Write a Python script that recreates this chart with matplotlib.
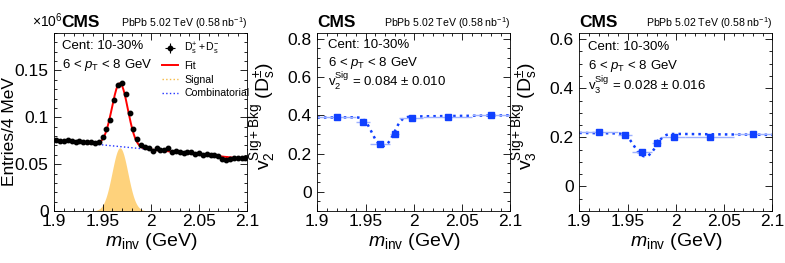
import numpy as np
import matplotlib
matplotlib.use('Agg')
import matplotlib.pyplot as plt
from matplotlib.ticker import MultipleLocator, FormatStrFormatter

plt.rcParams['font.family'] = ['Liberation Sans', 'DejaVu Sans']
plt.rcParams['mathtext.fontset'] = 'custom'
plt.rcParams['mathtext.rm'] = 'Liberation Sans'
plt.rcParams['mathtext.it'] = 'Liberation Sans:italic'
plt.rcParams['mathtext.bf'] = 'Liberation Sans:bold'

# invariant mass spectrum (x10^6 entries per 4 MeV)
mass = np.arange(50) * 0.004 + 1.902
entries = [0.0760, 0.0752, 0.0748, 0.0757, 0.0744, 0.0738, 0.0742, 0.0735, 0.0740, 0.0733,
           0.0730, 0.0732, 0.0790, 0.0876, 0.0975, 0.1190, 0.1350, 0.1365, 0.1250, 0.1050,
           0.0880, 0.0765, 0.0700, 0.0685, 0.0672, 0.0642, 0.0668, 0.0650, 0.0655, 0.0668,
           0.0628, 0.0640, 0.0632, 0.0618, 0.0630, 0.0627, 0.0608, 0.0615, 0.0603, 0.0605,
           0.0596, 0.0600, 0.0585, 0.0560, 0.0545, 0.0560, 0.0566, 0.0570, 0.0562, 0.0566]
entries_err = 0.0012

# fit parameters
bkg_at_19 = 0.0756
bkg_slope = -0.1005
sig_amp = 0.0675
sig_mean = 1.968
sig_width = 0.0082

# v_n bins
bin_lo = [1.900, 1.940, 1.955, 1.975, 1.985, 2.010, 2.060]
bin_hi = [1.940, 1.955, 1.975, 1.985, 2.010, 2.060, 2.100]
bin_x = [1.920, 1.9475, 1.965, 1.980, 1.998, 2.035, 2.080]
v2_vals = [0.393, 0.365, 0.250, 0.300, 0.387, 0.390, 0.400]
v2_errs = [0.008, 0.012, 0.012, 0.015, 0.008, 0.006, 0.006]
v3_vals = [0.223, 0.209, 0.139, 0.178, 0.201, 0.203, 0.212]
v3_errs = [0.008, 0.012, 0.012, 0.015, 0.010, 0.007, 0.007]
v2_sig = 0.084
v3_sig = 0.028
v2_bkg = (0.388, 0.400)   # background v2 at 1.9 and 2.1 GeV
v3_bkg = (0.218, 0.210)

xm = np.linspace(1.9, 2.1, 400)
bkg = bkg_at_19 + bkg_slope * (xm - 1.9)
sig = sig_amp * np.exp(-0.5 * ((xm - sig_mean) / sig_width) ** 2)
alpha = sig / (sig + bkg)

blue = '#1040ff'
fig = plt.figure(figsize=(7.85, 2.63), dpi=100)
W, H = 785.0, 263.0
lefts = [54.3, 317.3, 579.3]
axes = [fig.add_axes([l / W, 52 / H, 193 / W, 178 / H]) for l in lefts]


def style(ax, ymaj, ymin):
    ax.set_xlim(1.9, 2.1)
    ax.xaxis.set_major_locator(MultipleLocator(0.05))
    ax.xaxis.set_minor_locator(MultipleLocator(0.01))
    ax.yaxis.set_major_locator(MultipleLocator(ymaj))
    ax.yaxis.set_minor_locator(MultipleLocator(ymin))
    ax.xaxis.set_major_formatter(FormatStrFormatter('%g'))
    ax.yaxis.set_major_formatter(FormatStrFormatter('%g'))
    ax.tick_params(which='both', direction='in', top=True, right=True, labelsize=12.5)
    ax.tick_params(which='major', length=5, width=0.6)
    ax.tick_params(which='minor', length=2.5, width=0.6)
    ax.tick_params(axis='x', pad=2.5)
    ax.tick_params(axis='y', pad=4)
    for s in ax.spines.values():
        s.set_linewidth(0.6)
    ax.set_xlabel(r'$m_{\mathrm{inv}}$ (GeV)', fontsize=14)
    ax.xaxis.set_label_coords(0.5, -0.115)
    ax.text(0.0, 1.034, 'CMS', transform=ax.transAxes, fontsize=12.5, fontweight='bold',
            va='baseline', ha='left')
    ax.text(1.0, 1.034, r'PbPb 5.02 TeV (0.58 nb$^{-1}$)', transform=ax.transAxes,
            fontsize=7.6, va='baseline', ha='right')


# panel 1: mass spectrum
ax = axes[0]
style(ax, 0.05, 0.01)
ax.set_ylim(0, 0.19)
ax.fill_between(xm, 0, sig, color='#fed27c', lw=0)
ax.plot(xm, bkg, ':', color='#2030ff', lw=1.0)
ax.plot(xm, bkg + sig, '-', color='red', lw=1.4)
ax.errorbar(mass, entries, yerr=entries_err, xerr=0.002, fmt='o', color='black',
            ms=3.2, elinewidth=0.8, capsize=0)
ax.texts[0].set_x(0.035)
ax.text(-0.118, 1.034, r'$\times10^{6}$', transform=ax.transAxes, fontsize=10, va='baseline')
ax.set_ylabel('Entries/4 MeV', fontsize=12.5)
ax.yaxis.set_label_coords(-0.195, 0.445)
ax.text(0.04, 0.91, 'Cent: 10-30%', transform=ax.transAxes, fontsize=9.5, va='baseline')
ax.text(0.04, 0.805, r'6 < $p_{\mathrm{T}}$ < 8 GeV', transform=ax.transAxes, fontsize=9.5,
        va='baseline')
h_data = ax.errorbar([], [], yerr=[], xerr=[], fmt='o', color='black', ms=3.2,
                     elinewidth=0.8, capsize=0)
h_fit, = ax.plot([], [], '-', color='red', lw=1.4)
h_sig, = ax.plot([], [], ':', color='#f5b942', lw=1.0)
h_bkg, = ax.plot([], [], ':', color='#2030ff', lw=1.0)
ax.legend([h_data, h_fit, h_sig, h_bkg],
          [r'$\mathrm{D_s^{+} + D_s^{-}}$', 'Fit', 'Signal', 'Combinatorial'],
          loc='upper left', bbox_to_anchor=(0.53, 0.985), frameon=False, fontsize=7.6,
          handlelength=1.5, handletextpad=0.6, labelspacing=0.35, borderpad=0)

# panels 2 and 3: v2, v3
panels = [
    (axes[1], v2_vals, v2_errs, v2_sig, v2_bkg, 2, (-0.1, 0.83), '0.084', '0.010',
     (0.056, 0.916, 0.812, 0.705)),
    (axes[2], v3_vals, v3_errs, v3_sig, v3_bkg, 3, (-0.1, 0.625), '0.028', '0.016',
     (0.045, 0.905, 0.795, 0.68)),
]
for ax, vals, errs, vsig, vbkg, n, ylim, cen, unc, pos in panels:
    style(ax, 0.2, 0.05)
    ax.set_ylim(*ylim)
    vb = vbkg[0] + (vbkg[1] - vbkg[0]) * (xm - 1.9) / 0.2
    ax.plot(xm, alpha * vsig + (1 - alpha) * vb, ':', color=blue, lw=1.8)
    xl = [c - lo for c, lo in zip(bin_x, bin_lo)]
    xh = [hi - c for c, hi in zip(bin_x, bin_hi)]
    ax.errorbar(bin_x, vals, xerr=[xl, xh], fmt='none', ecolor='#9db0ff', elinewidth=1.0,
                capsize=0)
    ax.errorbar(bin_x, vals, yerr=errs, fmt='s', color=blue, ms=4.2, elinewidth=1.0,
                capsize=0)
    ax.set_ylabel(r'$\mathrm{v}_{%d}^{\mathrm{Sig+Bkg}}$ $(\mathrm{D_s^{\pm}})$' % n,
                  fontsize=14)
    ax.yaxis.set_label_coords(-0.2, 0.535)
    x0, y1, y2, y3 = pos
    ax.text(x0, y1, 'Cent: 10-30%', transform=ax.transAxes, fontsize=9.5, va='baseline')
    ax.text(x0, y2, r'6 < $p_{\mathrm{T}}$ < 8 GeV', transform=ax.transAxes, fontsize=9.5,
            va='baseline')
    ax.text(x0, y3, r'$\mathrm{v}_{%d}^{\mathrm{Sig}}$ = %s $\pm$ %s' % (n, cen, unc),
            transform=ax.transAxes, fontsize=9.5, va='baseline')

fig.savefig('out.png', dpi=100)
